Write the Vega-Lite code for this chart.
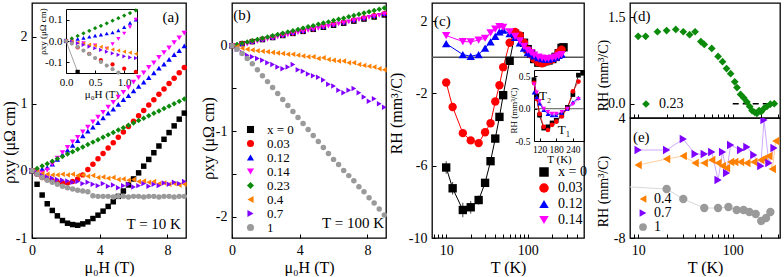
{
"$schema": "https://vega.github.io/schema/vega-lite/v6.json",
"background": "white",
"padding": {"left": 0, "top": 2, "right": 0, "bottom": 0},
"config": {
  "font": "Liberation Serif",
  "view": {"stroke": "black", "strokeWidth": 1.3},
  "axis": {"grid": false, "domain": false, "domainColor": "black", "domainWidth": 1, "tickColor": "black", "tickSize": 4, "tickWidth": 1, "offset": -4, "labelPadding": 5, "labelFont": "Liberation Serif", "labelFontSize": 14, "labelColor": "black", "labelFlush": false, "labelOverlap": false, "labelBound": false, "titleFont": "Liberation Serif", "titleFontSize": 16, "titleFontWeight": "normal", "titleColor": "black", "titlePadding": 2},
  "legend": {"labelFont": "Liberation Serif", "labelColor": "black", "symbolStrokeWidth": 0, "labelLimit": 0, "padding": 0},
  "text": {"font": "Liberation Serif", "color": "black"}
},
"datasets": {
"a": [
{"s":"x = 0","H":0,"v":0},{"s":"x = 0","H":0.3,"v":-0.2},{"s":"x = 0","H":0.6,"v":-0.36},{"s":"x = 0","H":0.9,"v":-0.49},{"s":"x = 0","H":1.2,"v":-0.59},{"s":"x = 0","H":1.5,"v":-0.67},{"s":"x = 0","H":1.8,"v":-0.74},{"s":"x = 0","H":2.1,"v":-0.78},{"s":"x = 0","H":2.4,"v":-0.8},{"s":"x = 0","H":2.7,"v":-0.81},{"s":"x = 0","H":3,"v":-0.79},{"s":"x = 0","H":3.3,"v":-0.76},{"s":"x = 0","H":3.6,"v":-0.71},{"s":"x = 0","H":3.9,"v":-0.66},{"s":"x = 0","H":4.2,"v":-0.6},{"s":"x = 0","H":4.5,"v":-0.53},{"s":"x = 0","H":4.8,"v":-0.46},{"s":"x = 0","H":5.1,"v":-0.38},{"s":"x = 0","H":5.4,"v":-0.3},{"s":"x = 0","H":5.7,"v":-0.21},{"s":"x = 0","H":6,"v":-0.12},{"s":"x = 0","H":6.3,"v":-0.03},{"s":"x = 0","H":6.6,"v":0.07},{"s":"x = 0","H":6.9,"v":0.17},{"s":"x = 0","H":7.2,"v":0.27},{"s":"x = 0","H":7.5,"v":0.37},{"s":"x = 0","H":7.8,"v":0.47},{"s":"x = 0","H":8.1,"v":0.57},{"s":"x = 0","H":8.4,"v":0.67},{"s":"x = 0","H":8.7,"v":0.77},{"s":"x = 0","H":9,"v":0.86},
{"s":"0.03","H":0,"v":0},{"s":"0.03","H":0.3,"v":-0.05},{"s":"0.03","H":0.6,"v":-0.1},{"s":"0.03","H":0.9,"v":-0.13},{"s":"0.03","H":1.2,"v":-0.15},{"s":"0.03","H":1.5,"v":-0.17},{"s":"0.03","H":1.8,"v":-0.18},{"s":"0.03","H":2.1,"v":-0.18},{"s":"0.03","H":2.4,"v":-0.16},{"s":"0.03","H":2.7,"v":-0.12},{"s":"0.03","H":3,"v":-0.06},{"s":"0.03","H":3.3,"v":0.02},{"s":"0.03","H":3.6,"v":0.1},{"s":"0.03","H":3.9,"v":0.18},{"s":"0.03","H":4.2,"v":0.26},{"s":"0.03","H":4.5,"v":0.34},{"s":"0.03","H":4.8,"v":0.42},{"s":"0.03","H":5.1,"v":0.5},{"s":"0.03","H":5.4,"v":0.58},{"s":"0.03","H":5.7,"v":0.66},{"s":"0.03","H":6,"v":0.74},{"s":"0.03","H":6.3,"v":0.82},{"s":"0.03","H":6.6,"v":0.9},{"s":"0.03","H":6.9,"v":0.98},{"s":"0.03","H":7.2,"v":1.06},{"s":"0.03","H":7.5,"v":1.14},{"s":"0.03","H":7.8,"v":1.22},{"s":"0.03","H":8.1,"v":1.3},{"s":"0.03","H":8.4,"v":1.38},{"s":"0.03","H":8.7,"v":1.46},{"s":"0.03","H":9,"v":1.54},
{"s":"0.12","H":0,"v":0},{"s":"0.12","H":0.3,"v":0.015},{"s":"0.12","H":0.6,"v":0.03},{"s":"0.12","H":0.9,"v":0.05},{"s":"0.12","H":1.2,"v":0.1},{"s":"0.12","H":1.5,"v":0.17},{"s":"0.12","H":1.8,"v":0.24},{"s":"0.12","H":2.1,"v":0.31},{"s":"0.12","H":2.4,"v":0.38},{"s":"0.12","H":2.7,"v":0.45},{"s":"0.12","H":3,"v":0.52},{"s":"0.12","H":3.3,"v":0.59},{"s":"0.12","H":3.6,"v":0.65},{"s":"0.12","H":3.9,"v":0.72},{"s":"0.12","H":4.2,"v":0.79},{"s":"0.12","H":4.5,"v":0.86},{"s":"0.12","H":4.8,"v":0.92},{"s":"0.12","H":5.1,"v":0.99},{"s":"0.12","H":5.4,"v":1.06},{"s":"0.12","H":5.7,"v":1.12},{"s":"0.12","H":6,"v":1.19},{"s":"0.12","H":6.3,"v":1.26},{"s":"0.12","H":6.6,"v":1.32},{"s":"0.12","H":6.9,"v":1.39},{"s":"0.12","H":7.2,"v":1.46},{"s":"0.12","H":7.5,"v":1.53},{"s":"0.12","H":7.8,"v":1.59},{"s":"0.12","H":8.1,"v":1.66},{"s":"0.12","H":8.4,"v":1.73},{"s":"0.12","H":8.7,"v":1.79},{"s":"0.12","H":9,"v":1.86},
{"s":"0.14","H":0,"v":0},{"s":"0.14","H":0.3,"v":-0.01},{"s":"0.14","H":0.6,"v":-0.03},{"s":"0.14","H":0.9,"v":0.01},{"s":"0.14","H":1.2,"v":0.1},{"s":"0.14","H":1.5,"v":0.19},{"s":"0.14","H":1.8,"v":0.27},{"s":"0.14","H":2.1,"v":0.35},{"s":"0.14","H":2.4,"v":0.43},{"s":"0.14","H":2.7,"v":0.5},{"s":"0.14","H":3,"v":0.58},{"s":"0.14","H":3.3,"v":0.65},{"s":"0.14","H":3.6,"v":0.73},{"s":"0.14","H":3.9,"v":0.8},{"s":"0.14","H":4.2,"v":0.87},{"s":"0.14","H":4.5,"v":0.95},{"s":"0.14","H":4.8,"v":1.02},{"s":"0.14","H":5.1,"v":1.1},{"s":"0.14","H":5.4,"v":1.17},{"s":"0.14","H":5.7,"v":1.24},{"s":"0.14","H":6,"v":1.32},{"s":"0.14","H":6.3,"v":1.39},{"s":"0.14","H":6.6,"v":1.46},{"s":"0.14","H":6.9,"v":1.54},{"s":"0.14","H":7.2,"v":1.61},{"s":"0.14","H":7.5,"v":1.69},{"s":"0.14","H":7.8,"v":1.76},{"s":"0.14","H":8.1,"v":1.83},{"s":"0.14","H":8.4,"v":1.91},{"s":"0.14","H":8.7,"v":1.98},{"s":"0.14","H":9,"v":2.05},
{"s":"0.23","H":0,"v":0},{"s":"0.23","H":0.3,"v":0.036},{"s":"0.23","H":0.6,"v":0.071},{"s":"0.23","H":0.9,"v":0.107},{"s":"0.23","H":1.2,"v":0.143},{"s":"0.23","H":1.5,"v":0.179},{"s":"0.23","H":1.8,"v":0.214},{"s":"0.23","H":2.1,"v":0.25},{"s":"0.23","H":2.4,"v":0.286},{"s":"0.23","H":2.7,"v":0.321},{"s":"0.23","H":3,"v":0.357},{"s":"0.23","H":3.3,"v":0.393},{"s":"0.23","H":3.6,"v":0.428},{"s":"0.23","H":3.9,"v":0.464},{"s":"0.23","H":4.2,"v":0.5},{"s":"0.23","H":4.5,"v":0.536},{"s":"0.23","H":4.8,"v":0.571},{"s":"0.23","H":5.1,"v":0.607},{"s":"0.23","H":5.4,"v":0.643},{"s":"0.23","H":5.7,"v":0.678},{"s":"0.23","H":6,"v":0.714},{"s":"0.23","H":6.3,"v":0.75},{"s":"0.23","H":6.6,"v":0.785},{"s":"0.23","H":6.9,"v":0.821},{"s":"0.23","H":7.2,"v":0.857},{"s":"0.23","H":7.5,"v":0.893},{"s":"0.23","H":7.8,"v":0.928},{"s":"0.23","H":8.1,"v":0.964},{"s":"0.23","H":8.4,"v":1.0},{"s":"0.23","H":8.7,"v":1.035},{"s":"0.23","H":9,"v":1.07},
{"s":"0.4","H":0,"v":0},{"s":"0.4","H":0.3,"v":-0.02},{"s":"0.4","H":0.6,"v":-0.04},{"s":"0.4","H":0.9,"v":-0.05},{"s":"0.4","H":1.2,"v":-0.06},{"s":"0.4","H":1.5,"v":-0.06},{"s":"0.4","H":1.8,"v":-0.05},{"s":"0.4","H":2.1,"v":-0.06},{"s":"0.4","H":2.4,"v":-0.05},{"s":"0.4","H":2.7,"v":-0.07},{"s":"0.4","H":3,"v":-0.06},{"s":"0.4","H":3.3,"v":-0.08},{"s":"0.4","H":3.6,"v":-0.07},{"s":"0.4","H":3.9,"v":-0.1},{"s":"0.4","H":4.2,"v":-0.09},{"s":"0.4","H":4.5,"v":-0.11},{"s":"0.4","H":4.8,"v":-0.1},{"s":"0.4","H":5.1,"v":-0.13},{"s":"0.4","H":5.4,"v":-0.12},{"s":"0.4","H":5.7,"v":-0.14},{"s":"0.4","H":6,"v":-0.13},{"s":"0.4","H":6.3,"v":-0.16},{"s":"0.4","H":6.6,"v":-0.15},{"s":"0.4","H":6.9,"v":-0.17},{"s":"0.4","H":7.2,"v":-0.16},{"s":"0.4","H":7.5,"v":-0.19},{"s":"0.4","H":7.8,"v":-0.18},{"s":"0.4","H":8.1,"v":-0.2},{"s":"0.4","H":8.4,"v":-0.19},{"s":"0.4","H":8.7,"v":-0.21},{"s":"0.4","H":9,"v":-0.2},
{"s":"0.7","H":0,"v":0},{"s":"0.7","H":0.3,"v":-0.04},{"s":"0.7","H":0.6,"v":-0.07},{"s":"0.7","H":0.9,"v":-0.09},{"s":"0.7","H":1.2,"v":-0.11},{"s":"0.7","H":1.5,"v":-0.13},{"s":"0.7","H":1.8,"v":-0.14},{"s":"0.7","H":2.1,"v":-0.15},{"s":"0.7","H":2.4,"v":-0.17},{"s":"0.7","H":2.7,"v":-0.16},{"s":"0.7","H":3,"v":-0.19},{"s":"0.7","H":3.3,"v":-0.17},{"s":"0.7","H":3.6,"v":-0.2},{"s":"0.7","H":3.9,"v":-0.22},{"s":"0.7","H":4.2,"v":-0.19},{"s":"0.7","H":4.5,"v":-0.23},{"s":"0.7","H":4.8,"v":-0.21},{"s":"0.7","H":5.1,"v":-0.25},{"s":"0.7","H":5.4,"v":-0.22},{"s":"0.7","H":5.7,"v":-0.2},{"s":"0.7","H":6,"v":-0.24},{"s":"0.7","H":6.3,"v":-0.22},{"s":"0.7","H":6.6,"v":-0.19},{"s":"0.7","H":6.9,"v":-0.23},{"s":"0.7","H":7.2,"v":-0.2},{"s":"0.7","H":7.5,"v":-0.22},{"s":"0.7","H":7.8,"v":-0.18},{"s":"0.7","H":8.1,"v":-0.2},{"s":"0.7","H":8.4,"v":-0.17},{"s":"0.7","H":8.7,"v":-0.19},{"s":"0.7","H":9,"v":-0.16},
{"s":"1","H":0,"v":0},{"s":"1","H":0.3,"v":-0.05},{"s":"1","H":0.6,"v":-0.1},{"s":"1","H":0.9,"v":-0.14},{"s":"1","H":1.2,"v":-0.17},{"s":"1","H":1.5,"v":-0.2},{"s":"1","H":1.8,"v":-0.23},{"s":"1","H":2.1,"v":-0.25},{"s":"1","H":2.4,"v":-0.27},{"s":"1","H":2.7,"v":-0.29},{"s":"1","H":3,"v":-0.3},{"s":"1","H":3.3,"v":-0.31},{"s":"1","H":3.6,"v":-0.37},{"s":"1","H":3.9,"v":-0.38},{"s":"1","H":4.2,"v":-0.38},{"s":"1","H":4.5,"v":-0.38},{"s":"1","H":4.8,"v":-0.39},{"s":"1","H":5.1,"v":-0.38},{"s":"1","H":5.4,"v":-0.38},{"s":"1","H":5.7,"v":-0.39},{"s":"1","H":6,"v":-0.38},{"s":"1","H":6.3,"v":-0.38},{"s":"1","H":6.6,"v":-0.39},{"s":"1","H":6.9,"v":-0.38},{"s":"1","H":7.2,"v":-0.38},{"s":"1","H":7.5,"v":-0.39},{"s":"1","H":7.8,"v":-0.38},{"s":"1","H":8.1,"v":-0.38},{"s":"1","H":8.4,"v":-0.39},{"s":"1","H":8.7,"v":-0.38},{"s":"1","H":9,"v":-0.38}
],
"ai": [
{"s":"x = 0","H":0,"v":0},{"s":"x = 0","H":0.2,"v":-0.145},
{"s":"0.03","H":0,"v":0},{"s":"0.03","H":0.2,"v":-0.03},{"s":"0.03","H":0.4,"v":-0.06},{"s":"0.03","H":0.6,"v":-0.09},{"s":"0.03","H":0.8,"v":-0.11},{"s":"0.03","H":1.0,"v":-0.13},{"s":"0.03","H":1.2,"v":-0.145},
{"s":"0.12","H":0,"v":0},{"s":"0.12","H":0.1,"v":0.005},{"s":"0.12","H":0.2,"v":0.01},{"s":"0.12","H":0.3,"v":0.015},{"s":"0.12","H":0.4,"v":0.02},{"s":"0.12","H":0.5,"v":0.025},{"s":"0.12","H":0.6,"v":0.03},{"s":"0.12","H":0.7,"v":0.035},{"s":"0.12","H":0.8,"v":0.04},{"s":"0.12","H":0.9,"v":0.05},{"s":"0.12","H":1.0,"v":0.065},{"s":"0.12","H":1.1,"v":0.085},{"s":"0.12","H":1.2,"v":0.1},
{"s":"0.14","H":0,"v":0},{"s":"0.14","H":0.1,"v":0},{"s":"0.14","H":0.3,"v":-0.01},{"s":"0.14","H":0.5,"v":-0.02},{"s":"0.14","H":0.7,"v":-0.035},{"s":"0.14","H":0.8,"v":-0.015},{"s":"0.14","H":0.9,"v":0.01},{"s":"0.14","H":1.0,"v":0.035},{"s":"0.14","H":1.1,"v":0.065},{"s":"0.14","H":1.2,"v":0.1},
{"s":"0.23","H":0,"v":0},{"s":"0.23","H":0.1,"v":0.012},{"s":"0.23","H":0.2,"v":0.024},{"s":"0.23","H":0.3,"v":0.036},{"s":"0.23","H":0.4,"v":0.048},{"s":"0.23","H":0.5,"v":0.06},{"s":"0.23","H":0.6,"v":0.071},{"s":"0.23","H":0.7,"v":0.083},{"s":"0.23","H":0.8,"v":0.095},{"s":"0.23","H":0.9,"v":0.107},{"s":"0.23","H":1.0,"v":0.119},{"s":"0.23","H":1.1,"v":0.131},{"s":"0.23","H":1.2,"v":0.143},
{"s":"0.4","H":0,"v":0},{"s":"0.4","H":0.1,"v":-0.003},{"s":"0.4","H":0.2,"v":-0.008},{"s":"0.4","H":0.3,"v":-0.012},{"s":"0.4","H":0.4,"v":-0.017},{"s":"0.4","H":0.5,"v":-0.022},{"s":"0.4","H":0.6,"v":-0.027},{"s":"0.4","H":0.7,"v":-0.033},{"s":"0.4","H":0.8,"v":-0.04},{"s":"0.4","H":0.9,"v":-0.045},{"s":"0.4","H":1.0,"v":-0.05},{"s":"0.4","H":1.1,"v":-0.055},{"s":"0.4","H":1.2,"v":-0.06},
{"s":"0.7","H":0,"v":0},{"s":"0.7","H":0.1,"v":-0.005},{"s":"0.7","H":0.2,"v":-0.01},{"s":"0.7","H":0.3,"v":-0.018},{"s":"0.7","H":0.4,"v":-0.026},{"s":"0.7","H":0.5,"v":-0.034},{"s":"0.7","H":0.6,"v":-0.042},{"s":"0.7","H":0.7,"v":-0.05},{"s":"0.7","H":0.8,"v":-0.058},{"s":"0.7","H":0.9,"v":-0.065},{"s":"0.7","H":1.0,"v":-0.072},{"s":"0.7","H":1.1,"v":-0.077},{"s":"0.7","H":1.2,"v":-0.08},
{"s":"1","H":0,"v":0},{"s":"1","H":0.1,"v":-0.012},{"s":"1","H":0.2,"v":-0.028},{"s":"1","H":0.3,"v":-0.045},{"s":"1","H":0.4,"v":-0.062},{"s":"1","H":0.5,"v":-0.08},{"s":"1","H":0.6,"v":-0.098},{"s":"1","H":0.7,"v":-0.115},{"s":"1","H":0.8,"v":-0.132},{"s":"1","H":0.9,"v":-0.148}
],
"b": [
{"s":"x = 0","H":0,"v":0},{"s":"x = 0","H":0.6,"v":0.024},{"s":"x = 0","H":1.2,"v":0.048},{"s":"x = 0","H":1.8,"v":0.072},{"s":"x = 0","H":2.4,"v":0.096},{"s":"x = 0","H":3,"v":0.12},{"s":"x = 0","H":3.6,"v":0.144},{"s":"x = 0","H":4.2,"v":0.168},{"s":"x = 0","H":4.8,"v":0.192},{"s":"x = 0","H":5.4,"v":0.216},{"s":"x = 0","H":6,"v":0.24},{"s":"x = 0","H":6.6,"v":0.264},{"s":"x = 0","H":7.2,"v":0.288},{"s":"x = 0","H":7.8,"v":0.312},{"s":"x = 0","H":8.4,"v":0.336},{"s":"x = 0","H":9,"v":0.36},
{"s":"0.03","H":0,"v":0},{"s":"0.03","H":0.6,"v":0.025},{"s":"0.03","H":1.2,"v":0.05},{"s":"0.03","H":1.8,"v":0.075},{"s":"0.03","H":2.4,"v":0.1},{"s":"0.03","H":3,"v":0.125},{"s":"0.03","H":3.6,"v":0.15},{"s":"0.03","H":4.2,"v":0.175},{"s":"0.03","H":4.8,"v":0.2},{"s":"0.03","H":5.4,"v":0.225},{"s":"0.03","H":6,"v":0.25},{"s":"0.03","H":6.6,"v":0.275},{"s":"0.03","H":7.2,"v":0.3},{"s":"0.03","H":7.8,"v":0.325},{"s":"0.03","H":8.4,"v":0.35},{"s":"0.03","H":9,"v":0.375},
{"s":"0.12","H":0,"v":0},{"s":"0.12","H":0.6,"v":0.026},{"s":"0.12","H":1.2,"v":0.052},{"s":"0.12","H":1.8,"v":0.077},{"s":"0.12","H":2.4,"v":0.102},{"s":"0.12","H":3,"v":0.127},{"s":"0.12","H":3.6,"v":0.152},{"s":"0.12","H":4.2,"v":0.177},{"s":"0.12","H":4.8,"v":0.202},{"s":"0.12","H":5.4,"v":0.227},{"s":"0.12","H":6,"v":0.252},{"s":"0.12","H":6.6,"v":0.277},{"s":"0.12","H":7.2,"v":0.302},{"s":"0.12","H":7.8,"v":0.327},{"s":"0.12","H":8.4,"v":0.352},{"s":"0.12","H":9,"v":0.377},
{"s":"0.14","H":0,"v":0},{"s":"0.14","H":0.3,"v":0},{"s":"0.14","H":0.6,"v":0.01},{"s":"0.14","H":0.9,"v":0.02},{"s":"0.14","H":1.2,"v":0.035},{"s":"0.14","H":1.5,"v":0.05},{"s":"0.14","H":1.8,"v":0.065},{"s":"0.14","H":2.1,"v":0.078},{"s":"0.14","H":2.4,"v":0.09},{"s":"0.14","H":2.7,"v":0.103},{"s":"0.14","H":3,"v":0.116},{"s":"0.14","H":3.3,"v":0.128},{"s":"0.14","H":3.6,"v":0.141},{"s":"0.14","H":3.9,"v":0.154},{"s":"0.14","H":4.2,"v":0.166},{"s":"0.14","H":4.5,"v":0.179},{"s":"0.14","H":4.8,"v":0.192},{"s":"0.14","H":5.1,"v":0.204},{"s":"0.14","H":5.4,"v":0.217},{"s":"0.14","H":5.7,"v":0.23},{"s":"0.14","H":6,"v":0.242},{"s":"0.14","H":6.3,"v":0.255},{"s":"0.14","H":6.6,"v":0.268},{"s":"0.14","H":6.9,"v":0.28},{"s":"0.14","H":7.2,"v":0.293},{"s":"0.14","H":7.5,"v":0.306},{"s":"0.14","H":7.8,"v":0.318},{"s":"0.14","H":8.1,"v":0.331},{"s":"0.14","H":8.4,"v":0.344},{"s":"0.14","H":8.7,"v":0.356},{"s":"0.14","H":9,"v":0.369},
{"s":"0.23","H":0,"v":0},{"s":"0.23","H":0.3,"v":0.015},{"s":"0.23","H":0.6,"v":0.029},{"s":"0.23","H":0.9,"v":0.044},{"s":"0.23","H":1.2,"v":0.059},{"s":"0.23","H":1.5,"v":0.074},{"s":"0.23","H":1.8,"v":0.088},{"s":"0.23","H":2.1,"v":0.103},{"s":"0.23","H":2.4,"v":0.118},{"s":"0.23","H":2.7,"v":0.132},{"s":"0.23","H":3,"v":0.147},{"s":"0.23","H":3.3,"v":0.162},{"s":"0.23","H":3.6,"v":0.176},{"s":"0.23","H":3.9,"v":0.191},{"s":"0.23","H":4.2,"v":0.206},{"s":"0.23","H":4.5,"v":0.221},{"s":"0.23","H":4.8,"v":0.235},{"s":"0.23","H":5.1,"v":0.25},{"s":"0.23","H":5.4,"v":0.265},{"s":"0.23","H":5.7,"v":0.279},{"s":"0.23","H":6,"v":0.294},{"s":"0.23","H":6.3,"v":0.309},{"s":"0.23","H":6.6,"v":0.323},{"s":"0.23","H":6.9,"v":0.338},{"s":"0.23","H":7.2,"v":0.353},{"s":"0.23","H":7.5,"v":0.368},{"s":"0.23","H":7.8,"v":0.382},{"s":"0.23","H":8.1,"v":0.397},{"s":"0.23","H":8.4,"v":0.412},{"s":"0.23","H":8.7,"v":0.426},{"s":"0.23","H":9,"v":0.441},
{"s":"0.4","H":0,"v":0},{"s":"0.4","H":0.3,"v":-0.01},{"s":"0.4","H":0.6,"v":-0.03},{"s":"0.4","H":0.9,"v":-0.04},{"s":"0.4","H":1.2,"v":-0.05},{"s":"0.4","H":1.5,"v":-0.06},{"s":"0.4","H":1.8,"v":-0.065},{"s":"0.4","H":2.1,"v":-0.07},{"s":"0.4","H":2.4,"v":-0.08},{"s":"0.4","H":2.7,"v":-0.085},{"s":"0.4","H":3,"v":-0.09},{"s":"0.4","H":3.3,"v":-0.1},{"s":"0.4","H":3.6,"v":-0.1},{"s":"0.4","H":3.9,"v":-0.11},{"s":"0.4","H":4.2,"v":-0.12},{"s":"0.4","H":4.5,"v":-0.13},{"s":"0.4","H":4.8,"v":-0.13},{"s":"0.4","H":5.1,"v":-0.15},{"s":"0.4","H":5.4,"v":-0.14},{"s":"0.4","H":5.7,"v":-0.16},{"s":"0.4","H":6,"v":-0.17},{"s":"0.4","H":6.3,"v":-0.18},{"s":"0.4","H":6.6,"v":-0.18},{"s":"0.4","H":6.9,"v":-0.2},{"s":"0.4","H":7.2,"v":-0.2},{"s":"0.4","H":7.5,"v":-0.22},{"s":"0.4","H":7.8,"v":-0.23},{"s":"0.4","H":8.1,"v":-0.24},{"s":"0.4","H":8.4,"v":-0.25},{"s":"0.4","H":8.7,"v":-0.27},{"s":"0.4","H":9,"v":-0.28},
{"s":"0.7","H":0,"v":0},{"s":"0.7","H":0.3,"v":-0.04},{"s":"0.7","H":0.6,"v":-0.08},{"s":"0.7","H":0.9,"v":-0.11},{"s":"0.7","H":1.2,"v":-0.13},{"s":"0.7","H":1.5,"v":-0.15},{"s":"0.7","H":1.8,"v":-0.17},{"s":"0.7","H":2.1,"v":-0.2},{"s":"0.7","H":2.4,"v":-0.22},{"s":"0.7","H":2.7,"v":-0.25},{"s":"0.7","H":3,"v":-0.27},{"s":"0.7","H":3.3,"v":-0.25},{"s":"0.7","H":3.6,"v":-0.22},{"s":"0.7","H":3.9,"v":-0.28},{"s":"0.7","H":4.2,"v":-0.3},{"s":"0.7","H":4.5,"v":-0.33},{"s":"0.7","H":4.8,"v":-0.35},{"s":"0.7","H":5.1,"v":-0.37},{"s":"0.7","H":5.4,"v":-0.4},{"s":"0.7","H":5.7,"v":-0.45},{"s":"0.7","H":6,"v":-0.47},{"s":"0.7","H":6.3,"v":-0.52},{"s":"0.7","H":6.6,"v":-0.55},{"s":"0.7","H":6.9,"v":-0.52},{"s":"0.7","H":7.2,"v":-0.5},{"s":"0.7","H":7.5,"v":-0.55},{"s":"0.7","H":7.8,"v":-0.6},{"s":"0.7","H":8.1,"v":-0.65},{"s":"0.7","H":8.4,"v":-0.62},{"s":"0.7","H":8.7,"v":-0.68},{"s":"0.7","H":9,"v":-0.72},
{"s":"1","H":0,"v":0},{"s":"1","H":0.3,"v":-0.04},{"s":"1","H":0.6,"v":-0.09},{"s":"1","H":0.9,"v":-0.15},{"s":"1","H":1.2,"v":-0.21},{"s":"1","H":1.5,"v":-0.28},{"s":"1","H":1.8,"v":-0.35},{"s":"1","H":2.1,"v":-0.42},{"s":"1","H":2.4,"v":-0.49},{"s":"1","H":2.7,"v":-0.56},{"s":"1","H":3,"v":-0.63},{"s":"1","H":3.3,"v":-0.7},{"s":"1","H":3.6,"v":-0.77},{"s":"1","H":3.9,"v":-0.84},{"s":"1","H":4.2,"v":-0.91},{"s":"1","H":4.5,"v":-0.98},{"s":"1","H":4.8,"v":-1.05},{"s":"1","H":5.1,"v":-1.12},{"s":"1","H":5.4,"v":-1.19},{"s":"1","H":5.7,"v":-1.26},{"s":"1","H":6,"v":-1.33},{"s":"1","H":6.3,"v":-1.39},{"s":"1","H":6.6,"v":-1.46},{"s":"1","H":6.9,"v":-1.52},{"s":"1","H":7.2,"v":-1.58},{"s":"1","H":7.5,"v":-1.65},{"s":"1","H":7.8,"v":-1.71},{"s":"1","H":8.1,"v":-1.78},{"s":"1","H":8.4,"v":-1.84},{"s":"1","H":8.7,"v":-1.91},{"s":"1","H":9,"v":-1.98}
],
"c": [
{"s":"x = 0","T":10,"v":-6.1,"e":0.35},{"s":"x = 0","T":12,"v":-7.25,"e":0.35},{"s":"x = 0","T":16,"v":-8.45,"e":0.4},{"s":"x = 0","T":20,"v":-8.3,"e":0.35},{"s":"x = 0","T":25,"v":-7.9,"e":0.25},{"s":"x = 0","T":30,"v":-6.95,"e":0.15},{"s":"x = 0","T":35,"v":-5.75,"e":0.1},{"s":"x = 0","T":40,"v":-4.5},{"s":"x = 0","T":45,"v":-3.3},{"s":"x = 0","T":50,"v":-2.1},{"s":"x = 0","T":60,"v":-0.2},{"s":"x = 0","T":70,"v":1.3},{"s":"x = 0","T":80,"v":1.15},{"s":"x = 0","T":90,"v":0.8},{"s":"x = 0","T":100,"v":0.45},{"s":"x = 0","T":110,"v":0.2},{"s":"x = 0","T":120,"v":-0.1},{"s":"x = 0","T":135,"v":-0.3},{"s":"x = 0","T":150,"v":-0.28},{"s":"x = 0","T":165,"v":-0.22},{"s":"x = 0","T":180,"v":-0.18},{"s":"x = 0","T":200,"v":-0.1},{"s":"x = 0","T":220,"v":0.02},{"s":"x = 0","T":240,"v":0.22},{"s":"x = 0","T":260,"v":0.52},{"s":"x = 0","T":275,"v":0.55},
{"s":"0.03","T":10,"v":-1.4},{"s":"0.03","T":12,"v":-2.75},{"s":"0.03","T":16,"v":-4.2},{"s":"0.03","T":20,"v":-4.6},{"s":"0.03","T":25,"v":-4.75},{"s":"0.03","T":30,"v":-4.15},{"s":"0.03","T":35,"v":-3.65},{"s":"0.03","T":40,"v":-2.45},{"s":"0.03","T":45,"v":-1.55},{"s":"0.03","T":50,"v":-0.55},{"s":"0.03","T":60,"v":0.8},{"s":"0.03","T":70,"v":1.4},{"s":"0.03","T":80,"v":1.2},{"s":"0.03","T":90,"v":0.8},{"s":"0.03","T":100,"v":0.4},{"s":"0.03","T":110,"v":0.15},{"s":"0.03","T":120,"v":-0.08},{"s":"0.03","T":135,"v":-0.28},{"s":"0.03","T":150,"v":-0.33},{"s":"0.03","T":165,"v":-0.25},{"s":"0.03","T":180,"v":-0.2},{"s":"0.03","T":200,"v":-0.12},{"s":"0.03","T":220,"v":0},{"s":"0.03","T":240,"v":0.27},{"s":"0.03","T":260,"v":0.42},
{"s":"0.12","T":10,"v":0.75},{"s":"0.12","T":16,"v":0.15},{"s":"0.12","T":20,"v":0.05},{"s":"0.12","T":25,"v":0.15},{"s":"0.12","T":30,"v":0.5},{"s":"0.12","T":35,"v":0.85},{"s":"0.12","T":40,"v":1.15},{"s":"0.12","T":45,"v":1.4},{"s":"0.12","T":50,"v":1.5},{"s":"0.12","T":60,"v":1.3},{"s":"0.12","T":70,"v":1.1},{"s":"0.12","T":80,"v":0.8},{"s":"0.12","T":90,"v":0.5},{"s":"0.12","T":100,"v":0.25},{"s":"0.12","T":110,"v":0.18},{"s":"0.12","T":120,"v":0.08},{"s":"0.12","T":135,"v":-0.02},{"s":"0.12","T":150,"v":-0.08},{"s":"0.12","T":165,"v":-0.1},{"s":"0.12","T":180,"v":-0.1},{"s":"0.12","T":200,"v":-0.06},{"s":"0.12","T":220,"v":0},{"s":"0.12","T":240,"v":0.1},{"s":"0.12","T":260,"v":0.17},
{"s":"0.14","T":10,"v":1.2},{"s":"0.14","T":16,"v":0.87},{"s":"0.14","T":20,"v":0.85},{"s":"0.14","T":25,"v":0.95},{"s":"0.14","T":30,"v":1.05},{"s":"0.14","T":35,"v":1.35},{"s":"0.14","T":40,"v":1.55},{"s":"0.14","T":45,"v":1.7},{"s":"0.14","T":50,"v":1.65},{"s":"0.14","T":60,"v":1.4},{"s":"0.14","T":70,"v":1.15},{"s":"0.14","T":80,"v":0.9},{"s":"0.14","T":90,"v":0.6},{"s":"0.14","T":100,"v":0.38},{"s":"0.14","T":110,"v":0.25},{"s":"0.14","T":120,"v":0.12},{"s":"0.14","T":135,"v":0},{"s":"0.14","T":150,"v":-0.05},{"s":"0.14","T":165,"v":-0.08},{"s":"0.14","T":180,"v":-0.08},{"s":"0.14","T":200,"v":-0.05},{"s":"0.14","T":220,"v":0},{"s":"0.14","T":240,"v":0.07},{"s":"0.14","T":260,"v":0.15}
],
"d": [
{"s":"0.23","T":10,"v":1.17},{"s":"0.23","T":12,"v":1.17},{"s":"0.23","T":16,"v":1.25},{"s":"0.23","T":20,"v":1.27},{"s":"0.23","T":25,"v":1.29},{"s":"0.23","T":30,"v":1.25},{"s":"0.23","T":35,"v":1.2},{"s":"0.23","T":40,"v":1.25},{"s":"0.23","T":46,"v":1.08},{"s":"0.23","T":50,"v":1.03},{"s":"0.23","T":60,"v":0.96},{"s":"0.23","T":70,"v":0.82},{"s":"0.23","T":78,"v":0.73},{"s":"0.23","T":86,"v":0.61},{"s":"0.23","T":95,"v":0.52},{"s":"0.23","T":105,"v":0.38},{"s":"0.23","T":111,"v":0.28},{"s":"0.23","T":121,"v":0.16},{"s":"0.23","T":131,"v":0.1},{"s":"0.23","T":141,"v":0.03},{"s":"0.23","T":151,"v":-0.05},{"s":"0.23","T":160,"v":-0.12},{"s":"0.23","T":170,"v":-0.15},{"s":"0.23","T":180,"v":-0.17},{"s":"0.23","T":190,"v":-0.12},{"s":"0.23","T":200,"v":-0.14},{"s":"0.23","T":215,"v":-0.08},{"s":"0.23","T":230,"v":-0.05},{"s":"0.23","T":250,"v":-0.01},{"s":"0.23","T":275,"v":0.0}
],
"e": [
{"s":"0.4","T":10,"v":-0.7},{"s":"0.4","T":20,"v":-0.1},{"s":"0.4","T":30,"v":0.2},{"s":"0.4","T":40,"v":-0.5},{"s":"0.4","T":50,"v":-0.5},{"s":"0.4","T":60,"v":-0.2},{"s":"0.4","T":70,"v":-0.5},{"s":"0.4","T":78,"v":-0.8},{"s":"0.4","T":86,"v":-1.0},{"s":"0.4","T":95,"v":-0.4},{"s":"0.4","T":105,"v":-0.4},{"s":"0.4","T":121,"v":-0.4},{"s":"0.4","T":141,"v":-0.5},{"s":"0.4","T":167,"v":-0.4},{"s":"0.4","T":198,"v":-0.2},{"s":"0.4","T":214,"v":-0.05},{"s":"0.4","T":241,"v":0.2},{"s":"0.4","T":262,"v":-1.1},{"s":"0.4","T":285,"v":1.7},
{"s":"0.7","T":10,"v":0.8},{"s":"0.7","T":20,"v":0.8},{"s":"0.7","T":30,"v":1.9},{"s":"0.7","T":40,"v":0.4},{"s":"0.7","T":50,"v":0.4},{"s":"0.7","T":60,"v":0.6},{"s":"0.7","T":70,"v":-2.2},{"s":"0.7","T":78,"v":0.6},{"s":"0.7","T":86,"v":-1.5},{"s":"0.7","T":95,"v":1.3},{"s":"0.7","T":121,"v":0.8},{"s":"0.7","T":141,"v":1.1},{"s":"0.7","T":167,"v":0.3},{"s":"0.7","T":198,"v":-0.8},{"s":"0.7","T":214,"v":3.8},{"s":"0.7","T":241,"v":-0.5},{"s":"0.7","T":273,"v":1.0},
{"s":"1","T":7,"v":-2.85},{"s":"1","T":20,"v":-3.1},{"s":"1","T":30,"v":-4.1},{"s":"1","T":50,"v":-5.0},{"s":"1","T":70,"v":-5.0},{"s":"1","T":90,"v":-4.9},{"s":"1","T":110,"v":-5.2},{"s":"1","T":130,"v":-5.2},{"s":"1","T":150,"v":-5.4},{"s":"1","T":175,"v":-5.6},{"s":"1","T":200,"v":-6.3},{"s":"1","T":225,"v":-6.0},{"s":"1","T":250,"v":-5.4}
]
},
"spacing": 46,
"bounds": "flush",
"resolve": {"scale": {"color": "independent", "shape": "independent", "stroke": "independent"}, "legend": {"color": "independent", "shape": "independent", "stroke": "independent"}},
"hconcat": [
{
 "width": 154, "height": 235,
 "resolve": {"scale": {"x": "independent", "y": "independent"}},
 "layer": [
  {"layer": [
    {"data": {"name": "a"}, "mark": {"type": "point", "filled": true, "size": 30, "opacity": 1},
     "encoding": {
      "x": {"field": "H", "type": "quantitative", "scale": {"domain": [0, 9.1], "nice": false, "zero": false}, "axis": {"title": "μ₀H (T)", "labelOverlap": false, "values": [0,1,2,3,4,5,6,7,8,9], "labelExpr": "datum.value % 2 == 0 ? datum.label : ''"}},
      "y": {"field": "v", "type": "quantitative", "scale": {"domain": [-1, 2.5], "nice": false, "zero": false}, "axis": {"title": "ρxy (μΩ cm)", "labelOverlap": false, "values": [-1,-0.5,0,0.5,1,1.5,2], "labelExpr": "datum.value % 1 == 0 ? replace(format(datum.value, 'd'), '−', '-') : ''", "titleX": -19, "titleY": 139}},
      "color": {"field": "s", "type": "nominal", "scale": {"domain": ["x = 0","0.03","0.12","0.14","0.23","0.4","0.7","1"], "range": ["#000000","#ff0000","#0000ff","#ff00ff","#0b8a0b","#ff8000","#8000ff","#9a9a9a"]}, "legend": null},
      "shape": {"field": "s", "type": "nominal", "scale": {"domain": ["x = 0","0.03","0.12","0.14","0.23","0.4","0.7","1"], "range": ["square","circle","triangle-up","triangle-down","diamond","triangle-left","triangle-right","circle"]}, "legend": null}
     }},
    {"data": {"values": [{"H": 8.2, "v": 2.29, "t": "(a)"}]}, "mark": {"type": "text", "fontSize": 15, "align": "center", "baseline": "middle"},
     "encoding": {"x": {"field": "H", "type": "quantitative", "scale": {"domain": [0, 9.1], "nice": false, "zero": false}}, "y": {"field": "v", "type": "quantitative", "scale": {"domain": [-1, 2.5], "nice": false, "zero": false}}, "text": {"field": "t"}}},
    {"data": {"values": [{"H": 8.8, "v": -0.79, "t": "T = 10 K"}]}, "mark": {"type": "text", "fontSize": 15, "align": "right", "baseline": "middle"},
     "encoding": {"x": {"field": "H", "type": "quantitative", "scale": {"domain": [0, 9.1], "nice": false, "zero": false}}, "y": {"field": "v", "type": "quantitative", "scale": {"domain": [-1, 2.5], "nice": false, "zero": false}}, "text": {"field": "t"}}}
  ]},
  {"layer": [
    {"data": {"name": "ai"}, "transform": [{"filter": "datum.s == 'x = 0'"}], "mark": {"type": "line", "color": "#888888", "strokeWidth": 0.8},
     "encoding": {
      "x": {"field": "H", "type": "quantitative", "scale": {"domain": [0, 1.22], "range": [34, 105], "nice": false, "zero": false}, "axis": {"orient": "bottom", "offset": -168, "domain": false, "labelOverlap": false, "values": [0, 0.5, 1], "format": ".1f", "labelFontSize": 11, "tickSize": 3, "labelPadding": 3, "title": "μ₀H (T)", "titleFontSize": 11, "titlePadding": 1}},
      "y": {"field": "v", "type": "quantitative", "scale": {"domain": [-0.15, 0.15], "range": [70, 6], "nice": false, "zero": false}, "axis": {"orient": "left", "offset": -37, "domain": false, "labelOverlap": false, "values": [-0.1, 0, 0.1], "labelExpr": "replace(format(datum.value, '.1f'), '−', '-')", "labelFontSize": 11, "tickSize": 3, "labelPadding": 4, "title": "ρxy (μΩ cm)", "titleFontSize": 9, "titleX": -22, "titleY": 28}}
     }},
    {"data": {"name": "ai"}, "mark": {"type": "point", "filled": true, "size": 18, "opacity": 1},
     "encoding": {
      "x": {"field": "H", "type": "quantitative", "scale": {"domain": [0, 1.22], "range": [34, 105], "nice": false, "zero": false}},
      "y": {"field": "v", "type": "quantitative", "scale": {"domain": [-0.15, 0.15], "range": [70, 6], "nice": false, "zero": false}},
      "color": {"field": "s", "type": "nominal", "legend": null},
      "shape": {"field": "s", "type": "nominal", "legend": null}
     }}
  ]},
  {"data": {"name": "ai"}, "mark": {"type": "point", "opacity": 0},
   "encoding": {
    "x": {"field": "H", "type": "quantitative", "scale": {"domain": [0, 1.22], "range": [34, 105], "nice": false, "zero": false}, "axis": {"orient": "top", "offset": -6, "domain": true, "ticks": false, "labels": false, "title": null}},
    "y": {"field": "v", "type": "quantitative", "scale": {"domain": [-0.15, 0.15], "range": [70, 6], "nice": false, "zero": false}, "axis": {"orient": "right", "offset": -49, "domain": true, "ticks": false, "labels": false, "title": null}}
   }},
  {"data": {"name": "ai"}, "mark": {"type": "point", "opacity": 0},
   "encoding": {
    "x": {"field": "H", "type": "quantitative", "scale": {"domain": [0, 1.22], "range": [34, 105], "nice": false, "zero": false}, "axis": {"orient": "bottom", "offset": -165, "domain": true, "ticks": false, "labels": false, "title": null}},
    "y": {"field": "v", "type": "quantitative", "scale": {"domain": [-0.15, 0.15], "range": [70, 6], "nice": false, "zero": false}, "axis": {"orient": "left", "offset": -34, "domain": true, "ticks": false, "labels": false, "title": null}}
   }}
 ]
},
{
 "width": 154, "height": 235,
 "layer": [
  {"data": {"name": "b"}, "mark": {"type": "point", "filled": true, "size": 30, "opacity": 1},
   "encoding": {
    "x": {"field": "H", "type": "quantitative", "scale": {"domain": [0, 9.1], "nice": false, "zero": false}, "axis": {"title": "μ₀H (T)", "labelOverlap": false, "values": [0,1,2,3,4,5,6,7,8,9], "labelExpr": "datum.value % 2 == 0 ? datum.label : ''"}},
    "y": {"field": "v", "type": "quantitative", "scale": {"domain": [-2.25, 0.5], "nice": false, "zero": false}, "axis": {"title": "ρxy (μΩ cm)", "labelOverlap": false, "values": [-2,-1.5,-1,-0.5,0], "labelExpr": "datum.value % 1 == 0 ? replace(format(datum.value, 'd'), '−', '-') : ''", "titleX": -20, "titleY": 135}},
    "color": {"field": "s", "type": "nominal", "scale": {"domain": ["x = 0","0.03","0.12","0.14","0.23","0.4","0.7","1"], "range": ["#000000","#ff0000","#0000ff","#ff00ff","#0b8a0b","#ff8000","#8000ff","#9a9a9a"]}, "legend": {"orient": "none", "legendX": 12, "legendY": 120, "title": null, "labelFontSize": 13, "symbolSize": 50, "rowPadding": 0, "labelOffset": 10}},
    "shape": {"field": "s", "type": "nominal", "scale": {"domain": ["x = 0","0.03","0.12","0.14","0.23","0.4","0.7","1"], "range": ["square","circle","triangle-up","triangle-down","diamond","triangle-left","triangle-right","circle"]}, "legend": {"orient": "none", "legendX": 12, "legendY": 120, "title": null, "labelFontSize": 13, "symbolSize": 50, "rowPadding": 0, "labelOffset": 10}}
   }},
  {"data": {"values": [{"H": 0.59, "v": 0.36, "t": "(b)"}]}, "mark": {"type": "text", "fontSize": 15, "align": "center", "baseline": "middle"},
   "encoding": {"x": {"field": "H", "type": "quantitative", "scale": {"domain": [0, 9.1], "nice": false, "zero": false}}, "y": {"field": "v", "type": "quantitative", "scale": {"domain": [-2.25, 0.5], "nice": false, "zero": false}}, "text": {"field": "t"}}},
  {"data": {"values": [{"H": 8.98, "v": -2.07, "t": "T = 100 K"}]}, "mark": {"type": "text", "fontSize": 15, "align": "right", "baseline": "middle"},
   "encoding": {"x": {"field": "H", "type": "quantitative", "scale": {"domain": [0, 9.1], "nice": false, "zero": false}}, "y": {"field": "v", "type": "quantitative", "scale": {"domain": [-2.25, 0.5], "nice": false, "zero": false}}, "text": {"field": "t"}}}
 ]
},
{
 "width": 152, "height": 235,
 "resolve": {"scale": {"x": "independent", "y": "independent"}},
 "layer": [
  {"layer": [
    {"data": {"name": "c"}, "mark": {"type": "line", "strokeWidth": 1},
     "encoding": {
      "x": {"field": "T", "type": "quantitative", "scale": {"type": "log", "domain": [6.7, 490], "nice": false}, "axis": {"title": "T (K)", "labelOverlap": false, "values": [7,8,9,10,20,30,40,50,60,70,80,90,100,200,300,400], "labelExpr": "datum.value == 10 || datum.value == 100 ? datum.label : ''"}},
      "y": {"field": "v", "type": "quantitative", "scale": {"domain": [-10, 3], "nice": false, "zero": false}, "axis": {"title": "RH (mm³/C)", "labelOverlap": false, "values": [-10,-8,-6,-4,-2,0,2], "labelExpr": "replace(format(datum.value, 'd'), '−', '-')", "titleX": -32, "titleY": 110}},
      "stroke": {"field": "s", "type": "nominal", "scale": {"domain": ["x = 0","0.03","0.12","0.14"], "range": ["#000000","#ff0000","#0000ff","#ff00ff"]}}
     }},
    {"data": {"values": [{"T": 10, "v": 0}]}, "mark": {"type": "rule", "color": "#555555", "strokeWidth": 1.5},
     "encoding": {"y": {"field": "v", "type": "quantitative", "scale": {"domain": [-10, 3], "nice": false, "zero": false}, "axis": {"title": "RH (mm³/C)", "labelOverlap": false}}}},
    {"data": {"name": "c"}, "transform": [{"filter": "datum.e > 0"}], "mark": {"type": "errorbar", "color": "#444444", "thickness": 1},
     "encoding": {"x": {"field": "T", "type": "quantitative", "scale": {"type": "log", "domain": [6.7, 490], "nice": false}, "axis": {"title": "T (K)", "labelOverlap": false}}, "y": {"field": "v", "type": "quantitative", "scale": {"domain": [-10, 3], "nice": false, "zero": false}, "axis": {"title": "RH (mm³/C)", "labelOverlap": false}}, "yError": {"field": "e"}}},
    {"data": {"name": "c"}, "mark": {"type": "point", "filled": true, "size": 70, "opacity": 1},
     "encoding": {
      "x": {"field": "T", "type": "quantitative", "scale": {"type": "log", "domain": [6.7, 490], "nice": false}},
      "y": {"field": "v", "type": "quantitative", "scale": {"domain": [-10, 3], "nice": false, "zero": false}},
      "color": {"field": "s", "type": "nominal", "scale": {"domain": ["x = 0","0.03","0.12","0.14"], "range": ["#000000","#ff0000","#0000ff","#ff00ff"]}, "legend": {"orient": "none", "legendX": 105, "legendY": 162, "title": null, "labelFontSize": 14, "symbolSize": 90, "rowPadding": 2, "labelOffset": 7}},
      "shape": {"field": "s", "type": "nominal", "scale": {"domain": ["x = 0","0.03","0.12","0.14"], "range": ["square","circle","triangle-up","triangle-down"]}, "legend": {"orient": "none", "legendX": 105, "legendY": 162, "title": null, "labelFontSize": 14, "symbolSize": 90, "rowPadding": 2, "labelOffset": 7}}
     }},
    {"data": {"values": [{"T": 7.1, "v": 2.0, "t": "(c)"}]}, "mark": {"type": "text", "fontSize": 15, "align": "left", "baseline": "middle"},
     "encoding": {"x": {"field": "T", "type": "quantitative", "scale": {"type": "log", "domain": [6.7, 490], "nice": false}}, "y": {"field": "v", "type": "quantitative", "scale": {"domain": [-10, 3], "nice": false, "zero": false}}, "text": {"field": "t"}}}
  ]},
  {"layer": [
    {"data": {"values": [{"T": 100, "T2": 280, "v": 0}]}, "mark": {"type": "rule", "color": "#555555", "strokeWidth": 1},
     "encoding": {
      "x": {"field": "T", "type": "quantitative", "scale": {"domain": [100, 280], "range": [102, 152], "nice": false, "zero": false}, "axis": {"orient": "bottom", "offset": -100, "domain": false, "labelOverlap": false, "values": [120, 180, 240], "labelFontSize": 9.5, "tickSize": 3, "labelPadding": 3, "title": "T (K)", "titleFontSize": 11, "titlePadding": 0}},
      "x2": {"field": "T2"},
      "y": {"field": "v", "type": "quantitative", "scale": {"domain": [-0.5, 0.6], "range": [138, 67], "nice": false, "zero": false}, "axis": {"orient": "left", "offset": -105, "domain": false, "labelOverlap": false, "values": [-0.5, 0, 0.5], "labelExpr": "replace(format(datum.value, '.1f'), '−', '-')", "labelFontSize": 9.5, "tickSize": 3, "labelPadding": 4, "title": "RH (mm³/C)", "titleFontSize": 9, "titleX": -19, "titleY": 107}}
     }},
    {"data": {"name": "c"}, "transform": [{"filter": "datum.T >= 100"}], "mark": {"type": "line", "strokeWidth": 0.8},
     "encoding": {
      "x": {"field": "T", "type": "quantitative", "scale": {"domain": [100, 280], "range": [102, 152], "nice": false, "zero": false}},
      "y": {"field": "v", "type": "quantitative", "scale": {"domain": [-0.5, 0.6], "range": [138, 67], "nice": false, "zero": false}},
      "stroke": {"field": "s", "type": "nominal"}
     }},
    {"data": {"name": "c"}, "transform": [{"filter": "datum.T >= 100"}], "mark": {"type": "point", "filled": true, "size": 22, "opacity": 1},
     "encoding": {
      "x": {"field": "T", "type": "quantitative", "scale": {"domain": [100, 280], "range": [102, 152], "nice": false, "zero": false}},
      "y": {"field": "v", "type": "quantitative", "scale": {"domain": [-0.5, 0.6], "range": [138, 67], "nice": false, "zero": false}},
      "color": {"field": "s", "type": "nominal"},
      "shape": {"field": "s", "type": "nominal"}
     }},
    {"data": {"values": [{"T": 140, "v": 0.2, "t": "T₂"}, {"T": 208, "v": -0.33, "t": "T₁"}]}, "mark": {"type": "text", "fontSize": 13, "align": "center", "baseline": "middle"},
     "encoding": {
      "x": {"field": "T", "type": "quantitative", "scale": {"domain": [100, 280], "range": [102, 152], "nice": false, "zero": false}},
      "y": {"field": "v", "type": "quantitative", "scale": {"domain": [-0.5, 0.6], "range": [138, 67], "nice": false, "zero": false}},
      "text": {"field": "t"}
     }}
  ]},
  {"data": {"values": [{"T": 100, "v": 0}]}, "mark": {"type": "point", "opacity": 0},
   "encoding": {
    "x": {"field": "T", "type": "quantitative", "scale": {"domain": [100, 280], "range": [102, 152], "nice": false, "zero": false}, "axis": {"orient": "top", "offset": -67, "domain": true, "ticks": false, "labels": false, "title": null}},
    "y": {"field": "v", "type": "quantitative", "scale": {"domain": [-0.5, 0.6], "range": [138, 67], "nice": false, "zero": false}, "axis": {"orient": "right", "offset": 0, "domain": true, "ticks": false, "labels": false, "title": null}}
   }},
  {"data": {"values": [{"T": 100, "v": 0}]}, "mark": {"type": "point", "opacity": 0},
   "encoding": {
    "x": {"field": "T", "type": "quantitative", "scale": {"domain": [100, 280], "range": [102, 152], "nice": false, "zero": false}, "axis": {"orient": "bottom", "offset": -97, "domain": true, "ticks": false, "labels": false, "title": null}},
    "y": {"field": "v", "type": "quantitative", "scale": {"domain": [-0.5, 0.6], "range": [138, 67], "nice": false, "zero": false}, "axis": {"orient": "left", "offset": -102, "domain": true, "ticks": false, "labels": false, "title": null}}
   }}
 ]
},
{
 "spacing": 0,
 "bounds": "flush",
 "resolve": {"scale": {"color": "independent", "shape": "independent", "stroke": "independent"}, "legend": {"color": "independent", "shape": "independent", "stroke": "independent"}},
 "vconcat": [
  {
   "width": 150, "height": 115,
   "layer": [
    {"data": {"values": [{"T": 100, "v": 0}, {"T": 290, "v": 0}]}, "mark": {"type": "line", "color": "black", "strokeDash": [6, 4], "strokeWidth": 1.5},
     "encoding": {
      "x": {"field": "T", "type": "quantitative", "scale": {"type": "log", "domain": [8.2, 316], "nice": false}, "axis": {"labels": false, "title": null, "values": [9,10,20,30,40,50,60,70,80,90,100,200,300]}},
      "y": {"field": "v", "type": "quantitative", "scale": {"domain": [-0.25, 1.75], "nice": false, "zero": false}, "axis": {"title": "RH (mm³/C)", "labelOverlap": false, "titleFontSize": 14, "values": [0,0.5,1,1.5], "format": ".1f", "titleX": -24, "titleY": 72}}
     }},
    {"data": {"name": "d"}, "mark": {"type": "point", "filled": true, "size": 60, "opacity": 1},
     "encoding": {
      "x": {"field": "T", "type": "quantitative", "scale": {"type": "log", "domain": [8.2, 316], "nice": false}},
      "y": {"field": "v", "type": "quantitative", "scale": {"domain": [-0.25, 1.75], "nice": false, "zero": false}},
      "color": {"field": "s", "type": "nominal", "scale": {"domain": ["0.23"], "range": ["#0b8a0b"]}, "legend": {"orient": "none", "legendX": 9, "legendY": 94, "title": null, "labelFontSize": 14, "symbolSize": 60, "labelOffset": 6}},
      "shape": {"field": "s", "type": "nominal", "scale": {"domain": ["0.23"], "range": ["diamond"]}, "legend": {"orient": "none", "legendX": 9, "legendY": 94, "title": null, "labelFontSize": 14, "symbolSize": 60, "labelOffset": 6}}
     }},
    {"data": {"values": [{"T": 8.8, "v": 1.52, "t": "(d)"}]}, "mark": {"type": "text", "fontSize": 15, "align": "left", "baseline": "middle"},
     "encoding": {"x": {"field": "T", "type": "quantitative", "scale": {"type": "log", "domain": [8.2, 316], "nice": false}}, "y": {"field": "v", "type": "quantitative", "scale": {"domain": [-0.25, 1.75], "nice": false, "zero": false}}, "text": {"field": "t"}}}
   ]
  },
  {
   "width": 150, "height": 120,
   "layer": [
    {"data": {"name": "e"}, "mark": {"type": "line", "strokeWidth": 1, "clip": true},
     "encoding": {
      "x": {"field": "T", "type": "quantitative", "scale": {"type": "log", "domain": [8.2, 316], "nice": false}, "axis": {"title": "T (K)", "labelOverlap": false, "values": [9,10,20,30,40,50,60,70,80,90,100,200,300], "labelExpr": "datum.value == 10 || datum.value == 100 ? datum.label : ''"}},
      "y": {"field": "v", "type": "quantitative", "scale": {"domain": [-8, 4], "nice": false, "zero": false}, "axis": {"title": "RH (mm³/C)", "labelOverlap": false, "titleFontSize": 14, "values": [-8,-4,0,4], "labelExpr": "replace(format(datum.value, 'd'), '−', '-')", "titleX": -24, "titleY": 73}},
      "stroke": {"field": "s", "type": "nominal", "scale": {"domain": ["0.4","0.7","1"], "range": ["#ffcf9f","#cfa8ff","#d8d8d8"]}}
     }},
    {"data": {"name": "e"}, "mark": {"type": "point", "filled": true, "size": 70, "opacity": 1, "clip": true},
     "encoding": {
      "x": {"field": "T", "type": "quantitative", "scale": {"type": "log", "domain": [8.2, 316], "nice": false}},
      "y": {"field": "v", "type": "quantitative", "scale": {"domain": [-8, 4], "nice": false, "zero": false}},
      "color": {"field": "s", "type": "nominal", "scale": {"domain": ["0.4","0.7","1"], "range": ["#ff8000","#8000ff","#9a9a9a"]}, "legend": {"orient": "none", "legendX": 6, "legendY": 74, "title": null, "labelFontSize": 14, "symbolSize": 60, "rowPadding": 0, "labelOffset": 4}},
      "shape": {"field": "s", "type": "nominal", "scale": {"domain": ["0.4","0.7","1"], "range": ["triangle-left","triangle-right","circle"]}, "legend": {"orient": "none", "legendX": 6, "legendY": 74, "title": null, "labelFontSize": 14, "symbolSize": 60, "rowPadding": 0, "labelOffset": 4}}
     }},
    {"data": {"values": [{"T": 8.8, "v": 2.1, "t": "(e)"}]}, "mark": {"type": "text", "fontSize": 15, "align": "left", "baseline": "middle"},
     "encoding": {"x": {"field": "T", "type": "quantitative", "scale": {"type": "log", "domain": [8.2, 316], "nice": false}}, "y": {"field": "v", "type": "quantitative", "scale": {"domain": [-8, 4], "nice": false, "zero": false}}, "text": {"field": "t"}}}
   ]
  }
 ]
}
]
}
